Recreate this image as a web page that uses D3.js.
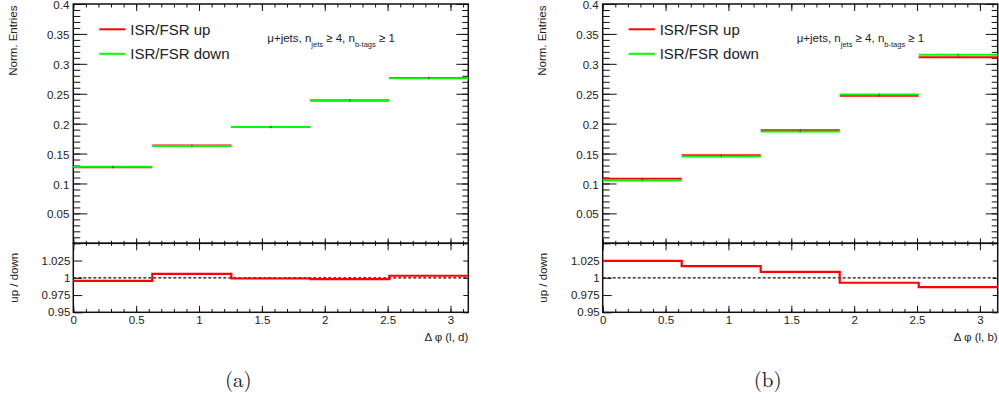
<!DOCTYPE html>
<html>
<head>
<meta charset="utf-8">
<script src="https://cdn.jsdelivr.net/npm/d3@7"></script>
<style>
  html, body { margin: 0; padding: 0; background: #fff; }
  svg { display: block; }
  text { font-family: "Liberation Sans", Arial, Helvetica, sans-serif; fill: #222; }
</style>
</head>
<body>
<div id="chart"></div>
<script>
// ---- data ----
const binEdges = [0, 0.6283, 1.2566, 1.8850, 2.5133, 3.1416];
const xMax = 3.1416;

// panel (a): Δφ(l, d)
const upA    = [0.1272, 0.1634, 0.1943, 0.2386, 0.2764];
const downA  = [0.1278, 0.1625, 0.1945, 0.2390, 0.2757];
const ratioA = [0.9955, 1.0058, 0.9990, 0.9982, 1.0030];

// panel (b): Δφ(l, b)
const upB    = [0.1077, 0.1472, 0.1888, 0.2467, 0.3110];
const downB  = [0.1050, 0.1450, 0.1870, 0.2488, 0.3150];
const ratioB = [1.0246, 1.0168, 1.0087, 0.9928, 0.9864];

const seriesNames = ["ISR/FSR up", "ISR/FSR down"];
const seriesColors = ["#ff0000", "#00ff00"];

const yTicksMain = [0.05, 0.1, 0.15, 0.2, 0.25, 0.3, 0.35, 0.4];
const yMinorMain = d3.range(0, 41).map(i => i / 100);
const yTicksRatio = [0.95, 0.975, 1, 1.025];
const xTicks = [0, 0.5, 1, 1.5, 2, 2.5, 3];
const xMinor = d3.range(0, 32).map(i => i / 10);

const panels = [
  { x0: 73.3, up: upA, down: downA, ratio: ratioA, xTitle: "Δ φ (l, d)", caption: "(a)" },
  { x0: 602.7, up: upB, down: downB, ratio: ratioB, xTitle: "Δ φ (l, b)", caption: "(b)" }
];

// ---- layout ----
const W = 999, H = 400;
const plotW = 395;
const topY0 = 4, topY1 = 243.3, ratY1 = 312.3;

const svg = d3.select("#chart").append("svg").attr("width", W).attr("height", H);

const fmt = d3.format("~g");

panels.forEach(p => {
  const g = svg.append("g").attr("transform", `translate(${p.x0},0)`);
  const x = d3.scaleLinear().domain([0, xMax]).range([0, plotW]);
  const y = d3.scaleLinear().domain([0, 0.4]).range([topY1, topY0]);
  const yr = d3.scaleLinear().domain([0.95, 1.05]).range([ratY1, topY1]);

  const axisStyle = sel => {
    sel.select(".domain").remove();
    sel.selectAll("line").attr("stroke", "#111").attr("stroke-width", 1);
    sel.selectAll("text").style("font-size", "11.5px").attr("fill", "#222");
  };

  // --- main panel axes ---
  g.append("g").call(d3.axisLeft(y).tickValues(yTicksMain).tickSize(-14).tickPadding(4).tickFormat(fmt)).call(axisStyle)
    .selectAll("text").attr("dy", "0.4em");
  g.append("g").call(d3.axisLeft(y).tickValues(yMinorMain).tickSize(-7).tickFormat("")).call(axisStyle);
  g.append("g").attr("transform", `translate(${plotW},0)`).call(d3.axisRight(y).tickValues(yTicksMain).tickSize(-12).tickFormat("")).call(axisStyle);
  g.append("g").attr("transform", `translate(${plotW},0)`).call(d3.axisRight(y).tickValues(yMinorMain).tickSize(-6).tickFormat("")).call(axisStyle);
  g.append("g").attr("transform", `translate(0,${topY0})`).call(d3.axisTop(x).tickValues(xTicks).tickSize(-7).tickFormat("")).call(axisStyle);
  g.append("g").attr("transform", `translate(0,${topY0})`).call(d3.axisTop(x).tickValues(xMinor).tickSize(-3.5).tickFormat("")).call(axisStyle);
  g.append("g").attr("transform", `translate(0,${topY1})`).call(d3.axisBottom(x).tickValues(xTicks).tickSize(-5).tickFormat("")).call(axisStyle);
  g.append("g").attr("transform", `translate(0,${topY1})`).call(d3.axisBottom(x).tickValues(xMinor).tickSize(-2.5).tickFormat("")).call(axisStyle);

  // --- ratio panel axes ---
  g.append("g").call(d3.axisLeft(yr).tickValues(yTicksRatio).tickSize(-9).tickPadding(3).tickFormat(fmt)).call(axisStyle);
  g.append("g").attr("transform", `translate(${plotW},0)`).call(d3.axisRight(yr).tickValues(yTicksRatio).tickSize(-5).tickFormat("")).call(axisStyle);
  g.append("g").attr("transform", `translate(0,${topY1})`).call(d3.axisTop(x).tickValues(xTicks).tickSize(-7).tickFormat("")).call(axisStyle);
  g.append("g").attr("transform", `translate(0,${topY1})`).call(d3.axisTop(x).tickValues(xMinor).tickSize(-2.5).tickFormat("")).call(axisStyle);
  g.append("g").attr("transform", `translate(0,${ratY1})`).call(d3.axisBottom(x).tickValues(xTicks).tickSize(-6.5).tickPadding(4).tickFormat(fmt)).call(axisStyle);
  g.append("g").attr("transform", `translate(0,${ratY1})`).call(d3.axisBottom(x).tickValues(xMinor).tickSize(-3.3).tickFormat("")).call(axisStyle);

  // frames
  g.append("rect").attr("x", 0).attr("y", topY0).attr("width", plotW).attr("height", topY1 - topY0)
    .attr("fill", "none").attr("stroke", "#111").attr("stroke-width", 1.5);
  g.append("rect").attr("x", 0).attr("y", topY1).attr("width", plotW).attr("height", ratY1 - topY1)
    .attr("fill", "none").attr("stroke", "#111").attr("stroke-width", 1.5);

  // --- histograms (horizontal bin lines) ---
  [p.up, p.down].forEach((vals, si) => {
    g.append("g").selectAll("line").data(vals).join("line")
      .attr("x1", (d, i) => x(binEdges[i]))
      .attr("x2", (d, i) => x(binEdges[i + 1]))
      .attr("y1", d => y(d)).attr("y2", d => y(d))
      .attr("stroke", seriesColors[si]).attr("stroke-width", 2);
  });
  [p.up, p.down].forEach(vals => {
    g.append("g").selectAll("line").data(vals).join("line")
      .attr("x1", (d, i) => x((binEdges[i] + binEdges[i + 1]) / 2))
      .attr("x2", (d, i) => x((binEdges[i] + binEdges[i + 1]) / 2))
      .attr("y1", d => y(d) - 1.2).attr("y2", d => y(d) + 1.2)
      .attr("stroke", "#333").attr("stroke-width", 1).attr("opacity", 0.6);
  });

  // --- ratio ---
  g.append("line").attr("x1", 0).attr("x2", plotW).attr("y1", yr(1)).attr("y2", yr(1))
    .attr("stroke", "#111").attr("stroke-width", 1.2).attr("stroke-dasharray", "3,2");
  const stepPts = [];
  p.ratio.forEach((r, i) => { stepPts.push([binEdges[i], r]); stepPts.push([binEdges[i + 1], r]); });
  g.append("path").datum(stepPts)
    .attr("d", d3.line().x(d => x(d[0])).y(d => yr(d[1])))
    .attr("fill", "none").attr("stroke", "#ff0000").attr("stroke-width", 2.2);

  // --- legend ---
  seriesNames.forEach((name, i) => {
    const ly = 29.3 + i * 24.5;
    g.append("line").attr("x1", 26).attr("x2", 52).attr("y1", ly).attr("y2", ly)
      .attr("stroke", seriesColors[i]).attr("stroke-width", 2);
    g.append("text").attr("x", 57).attr("y", ly + 5.3).style("font-size", "15px").text(name);
  });

  // --- annotation ---
  const ann = g.append("text").attr("x", 194).attr("y", 41.7).style("font-size", "11.5px").style("white-space", "pre");
  ann.append("tspan").text("μ+jets, n");
  ann.append("tspan").attr("dy", 5).style("font-size", "7.5px").text("jets");
  ann.append("tspan").attr("dy", -5).text(" ≥ 4, n");
  ann.append("tspan").attr("dy", 5).style("font-size", "7.5px").text("b-tags");
  ann.append("tspan").attr("dy", -5).text(" ≥ 1");

  // --- axis titles ---
  g.append("text").attr("transform", `translate(-60.3,${topY0 + 1.5}) rotate(-90)`)
    .attr("text-anchor", "end").attr("dominant-baseline", "central")
    .style("font-size", "11.5px").text("Norm. Entries");
  g.append("text").attr("transform", `translate(-59.8,${(topY1 + ratY1) / 2}) rotate(-90)`)
    .attr("text-anchor", "middle").attr("dominant-baseline", "central")
    .style("font-size", "11.5px").text("up / down");
  g.append("text").attr("x", plotW).attr("y", 340.7).attr("text-anchor", "end")
    .style("font-size", "11.5px").text(p.xTitle);

  // --- caption ---
  g.append("text").attr("x", 165).attr("y", 387).attr("text-anchor", "middle")
    .style("font-family", "'Latin Modern Roman','CMU Serif','DejaVu Serif',serif")
    .style("font-size", "21px").attr("fill", "#111").text(p.caption);
});
</script>
</body>
</html>
